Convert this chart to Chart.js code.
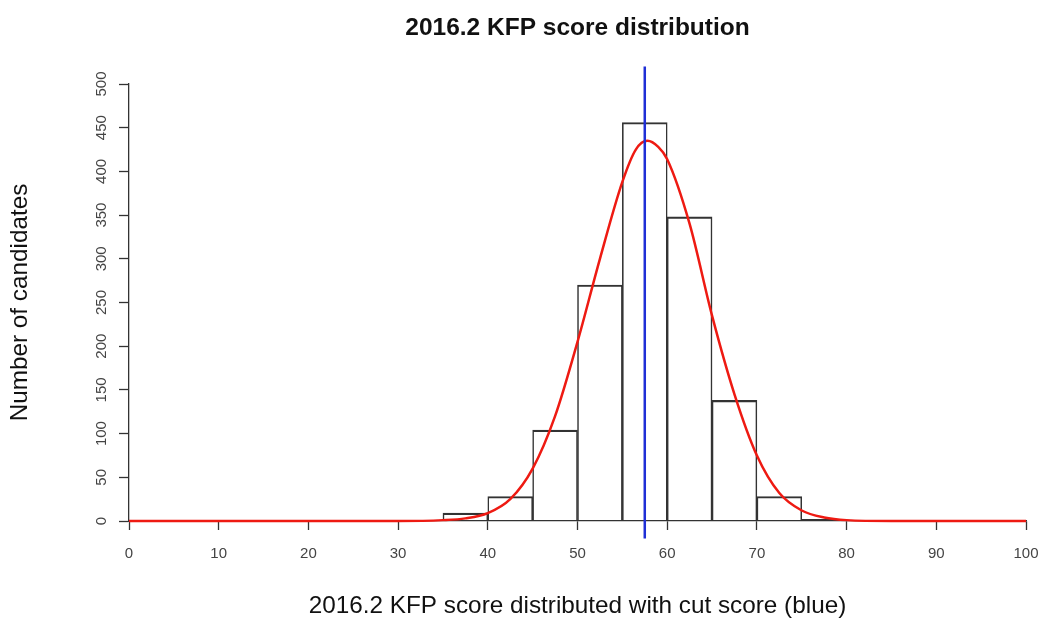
<!DOCTYPE html>
<html>
<head>
<meta charset="utf-8">
<script src="https://cdn.jsdelivr.net/npm/chart.js@4/dist/chart.umd.min.js"></script>
<style>
  body { margin: 0; background: #fff; }
  canvas { display: block; }
</style>
</head>
<body>
<canvas id="kfp" width="1043" height="621"></canvas>
<script>
// histogram bins (lower edges) and counts, bin width 5
var binStarts = [35, 40, 45, 50, 55, 60, 65, 70, 75];
var binCounts = [9, 28, 104, 270, 456, 348, 138, 28, 2];
var binWidth = 5;

// fitted normal curve
var curveX = [0, 30, 35, 37.5, 40, 42.5, 45, 47.5, 50, 52.5, 55, 56.5, 57.8, 59, 60, 62.5, 65, 67.5, 70, 72.5, 75, 77.5, 80, 85, 100];
var curveY = [0, 0, 1, 3, 9, 25, 60, 120, 205, 300, 388, 425, 435, 428, 414, 340, 235, 145, 75, 32, 12, 4, 1, 0, 0];

var cutScore = 57.5;
var cutSpan = [-20, 520];

var xTicks = [0, 100, 10];
var yTicks = [0, 500, 50];

var textCol = '#444';
var fontFam = 'Arial, "Liberation Sans", sans-serif';

var histData = binStarts.map(function (s, i) { return { x: s + binWidth / 2, y: binCounts[i] }; });
var curveData = curveX.map(function (x, i) { return { x: x, y: curveY[i] }; });
var cutData = cutSpan.map(function (y) { return { x: cutScore, y: y }; });

// y tick labels in R style (rotated)
var rotatedYLabels = {
  id: 'rotatedYLabels',
  afterDraw: function (chart) {
    var sc = chart.scales.y, ctx = chart.ctx;
    ctx.save();
    ctx.fillStyle = textCol;
    ctx.font = '15px ' + fontFam;
    ctx.textAlign = 'center';
    ctx.textBaseline = 'middle';
    sc.ticks.forEach(function (t) {
      var py = sc.getPixelForValue(t.value);
      ctx.save();
      ctx.translate(sc.right - 27, py);
      ctx.rotate(-Math.PI / 2);
      ctx.fillText(String(t.value), 0, 0);
      ctx.restore();
    });
    ctx.restore();
  }
};

var chart = new Chart(document.getElementById('kfp').getContext('2d'), {
  type: 'bar',
  data: {
    datasets: [
      {
        type: 'line',
        data: cutData,
        borderColor: '#1f2fd6',
        borderWidth: 2.5,
        pointRadius: 0,
        clip: false,
        order: 0
      },
      {
        type: 'line',
        data: curveData,
        borderColor: '#ee1a12',
        borderWidth: 2.5,
        pointRadius: 0,
        cubicInterpolationMode: 'monotone',
        clip: false,
        order: 1
      },
      {
        type: 'bar',
        data: histData,
        backgroundColor: 'rgba(255,255,255,0)',
        borderColor: '#333',
        borderWidth: { top: 1.5, left: 0.9, right: 0.9, bottom: 0 },
        barPercentage: 1,
        categoryPercentage: 1,
        order: 2
      }
    ]
  },
  options: {
    responsive: false,
    animation: false,
    layout: { padding: { left: 0, right: 17, top: 0, bottom: 0 } },
    plugins: {
      legend: { display: false },
      tooltip: { enabled: false },
      title: {
        display: true,
        fullSize: false,
        text: '2016.2 KFP score distribution',
        color: '#111',
        font: { family: fontFam, size: 24.5, weight: 'bold' },
        padding: { top: 13.3, bottom: 41.3 }
      }
    },
    scales: {
      x: {
        type: 'linear',
        offset: false,
        min: xTicks[0], max: xTicks[1],
        ticks: { stepSize: xTicks[2], color: textCol, font: { family: fontFam, size: 15 }, padding: 15, maxRotation: 0 },
        grid: { offset: false, drawOnChartArea: false, drawTicks: true, tickLength: 9, color: '#333', tickWidth: 1.3 },
        border: { display: true, color: '#333', width: 1.3 },
        title: {
          display: true,
          text: '2016.2 KFP score distributed with cut score (blue)',
          color: '#111',
          font: { family: fontFam, size: 24.3 },
          padding: { top: 0, bottom: 0 }
        },
        afterFit: function (s) { s.height = 100; s.paddingLeft = 0; s.paddingRight = 0; }
      },
      y: {
        type: 'linear',
        min: yTicks[0], max: yTicks[1],
        ticks: { stepSize: yTicks[2], display: false },
        grid: { drawOnChartArea: false, drawTicks: true, tickLength: 10, color: '#333', tickWidth: 1.3 },
        border: { display: true, color: '#333', width: 1.3 },
        title: {
          display: true,
          text: 'Number of candidates',
          color: '#111',
          font: { family: fontFam, size: 24.3 },
          padding: { top: 6, bottom: 0 }
        },
        afterFit: function (s) { s.width = 129; s.paddingTop = 0; s.paddingBottom = 0; }
      }
    }
  },
  plugins: [rotatedYLabels]
});
</script>
</body>
</html>
